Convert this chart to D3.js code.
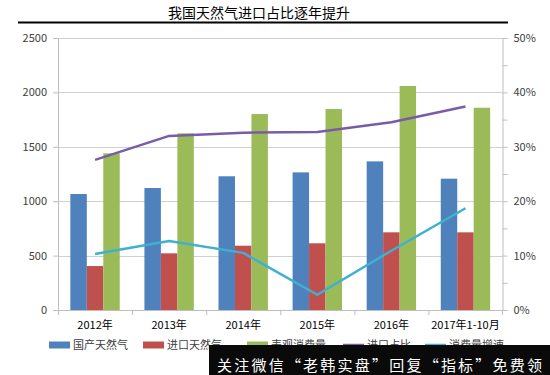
<!DOCTYPE html>
<html><head><meta charset="utf-8">
<script src="https://cdn.jsdelivr.net/npm/d3@7"></script>
<style>body{margin:0;background:#fff}svg{display:block}</style>
</head><body>
<script>
const categories = ["2012年","2013年","2014年","2015年","2016年","2017年1-10月"];
const domestic = [1066, 1121, 1229, 1265, 1366, 1207];
const imported = [404, 521, 591, 613, 714, 714];
const consumption = [1440, 1624, 1801, 1847, 2059, 1859];
const importShare = [27.6, 32.0, 32.6, 32.7, 34.5, 37.4];
const growth = [10.3, 12.7, 10.5, 2.8, 10.9, 18.7];
const leftTicks = [0, 500, 1000, 1500, 2000, 2500];
const rightTicks = [0, 10, 20, 30, 40, 50];
const seriesNames = ["国产天然气","进口天然气","表观消费量","进口占比","消费量增速"];
const colors = ["#4F81BD","#C0504D","#9BBB59","#7A5BA8","#3FB1D0"];
const title = "我国天然气进口占比逐年提升";
const watermark = "关注微信“老韩实盘”回复“指标”免费领";

const W = 550, H = 375;
const svg = d3.select("body").append("svg").attr("width", W).attr("height", H);
const font = "'Microsoft YaHei','Noto Sans CJK SC',sans-serif";
const L = 58, R = 502.5, T = 38, B = 310;

const x = d3.scaleBand().domain(categories).range([L, R]);
const xi = d3.scaleBand().domain([0,1,2]).range([0, x.bandwidth()*2/3]);
const yL = d3.scaleLinear().domain([0, 2500]).range([B, T]);
const yR = d3.scaleLinear().domain([0, 50]).range([B, T]);

// title
svg.append("text").attr("x", 259).attr("y", 18).attr("text-anchor","middle")
  .attr("font-family", font).attr("font-size", 14).attr("fill","#000").text(title);
svg.append("line").attr("x1",18).attr("x2",508).attr("y1",22.5).attr("y2",22.5)
  .attr("stroke","#000").attr("stroke-width",2);

// gridlines
svg.append("g").selectAll("line").data(leftTicks.slice(1)).join("line")
  .attr("x1", L).attr("x2", R).attr("y1", d=>Math.round(yL(d))+0.5).attr("y2", d=>Math.round(yL(d))+0.5)
  .attr("stroke","#d0d0d0").attr("stroke-width",1);

// bars
const seriesVals = [domestic, imported, consumption];
seriesVals.forEach((vals, s) => {
  svg.append("g").selectAll("rect").data(vals).join("rect")
    .attr("x", (d,i)=> x(categories[i]) + x.bandwidth()/6 + xi(s))
    .attr("width", xi.bandwidth())
    .attr("y", d=>yL(d)).attr("height", d=>B - yL(d))
    .attr("fill", colors[s]);
});

// lines
const lineGen = d3.line().x((d,i)=>x(categories[i]) + x.bandwidth()/2).y(d=>yR(d));
[importShare, growth].forEach((vals, k) => {
  svg.append("path").attr("d", lineGen(vals)).attr("fill","none")
    .attr("stroke", colors[3+k]).attr("stroke-width", 2.5).attr("stroke-linejoin","round");
});

// axes
const axisStyle = g => {
  g.selectAll("path,line").attr("stroke","#bfbfbf");
  g.selectAll("text").attr("font-family", font).attr("font-size", 11).attr("fill","#404040");
};
svg.append("g").attr("transform",`translate(${L},0)`)
  .call(d3.axisLeft(yL).tickValues(leftTicks).tickFormat(d3.format("d")).tickSize(5).tickPadding(6).tickSizeOuter(0))
  .call(axisStyle);
const rAxisTicks = d3.range(0, 51, 5);
svg.append("g").attr("transform",`translate(${R},0)`)
  .call(d3.axisRight(yR).tickValues(rAxisTicks).tickSize(5).tickPadding(6).tickSizeOuter(0)
    .tickFormat(d => rightTicks.includes(d) ? d + "%" : ""))
  .call(axisStyle);
const xAxis = svg.append("g").attr("transform",`translate(0,${B})`)
  .call(d3.axisBottom(x).tickSize(0).tickPadding(11).tickSizeOuter(0))
  .call(axisStyle);
xAxis.selectAll("text").attr("fill","#000");
// category separator ticks
svg.append("g").selectAll("line").data(categories).join("line")
  .attr("x1", d=>x(d)+0.5).attr("x2", d=>x(d)+0.5).attr("y1", B).attr("y2", B+5)
  .attr("stroke","#bfbfbf");
svg.append("line").attr("x1", R).attr("x2", R).attr("y1", B).attr("y2", B+5).attr("stroke","#bfbfbf");

// legend
const legendX = [49, 143, 247, 343, 425];
const lg = svg.append("g");
seriesNames.forEach((n, i) => {
  const g = lg.append("g").attr("transform", `translate(${legendX[i]},345)`);
  if (i < 3) g.append("rect").attr("x",0).attr("y",-3.5).attr("width",21).attr("height",7).attr("fill",colors[i]);
  else g.append("line").attr("x1",0).attr("x2",21).attr("y1",0).attr("y2",0).attr("stroke",colors[i]).attr("stroke-width",2.5);
  g.append("text").attr("x",24).attr("y",4).attr("font-family",font).attr("font-size",11)
    .attr("fill","#404040").text(n);
});

// watermark overlay
svg.append("rect").attr("x",209).attr("y",345).attr("width",341).attr("height",30).attr("fill","#0a0a0a");
svg.append("text").attr("x",217).attr("y",371).attr("font-family",font).attr("font-size",15)
  .attr("fill","#fff").attr("textLength",325).text(watermark);
</script>
</body></html>
